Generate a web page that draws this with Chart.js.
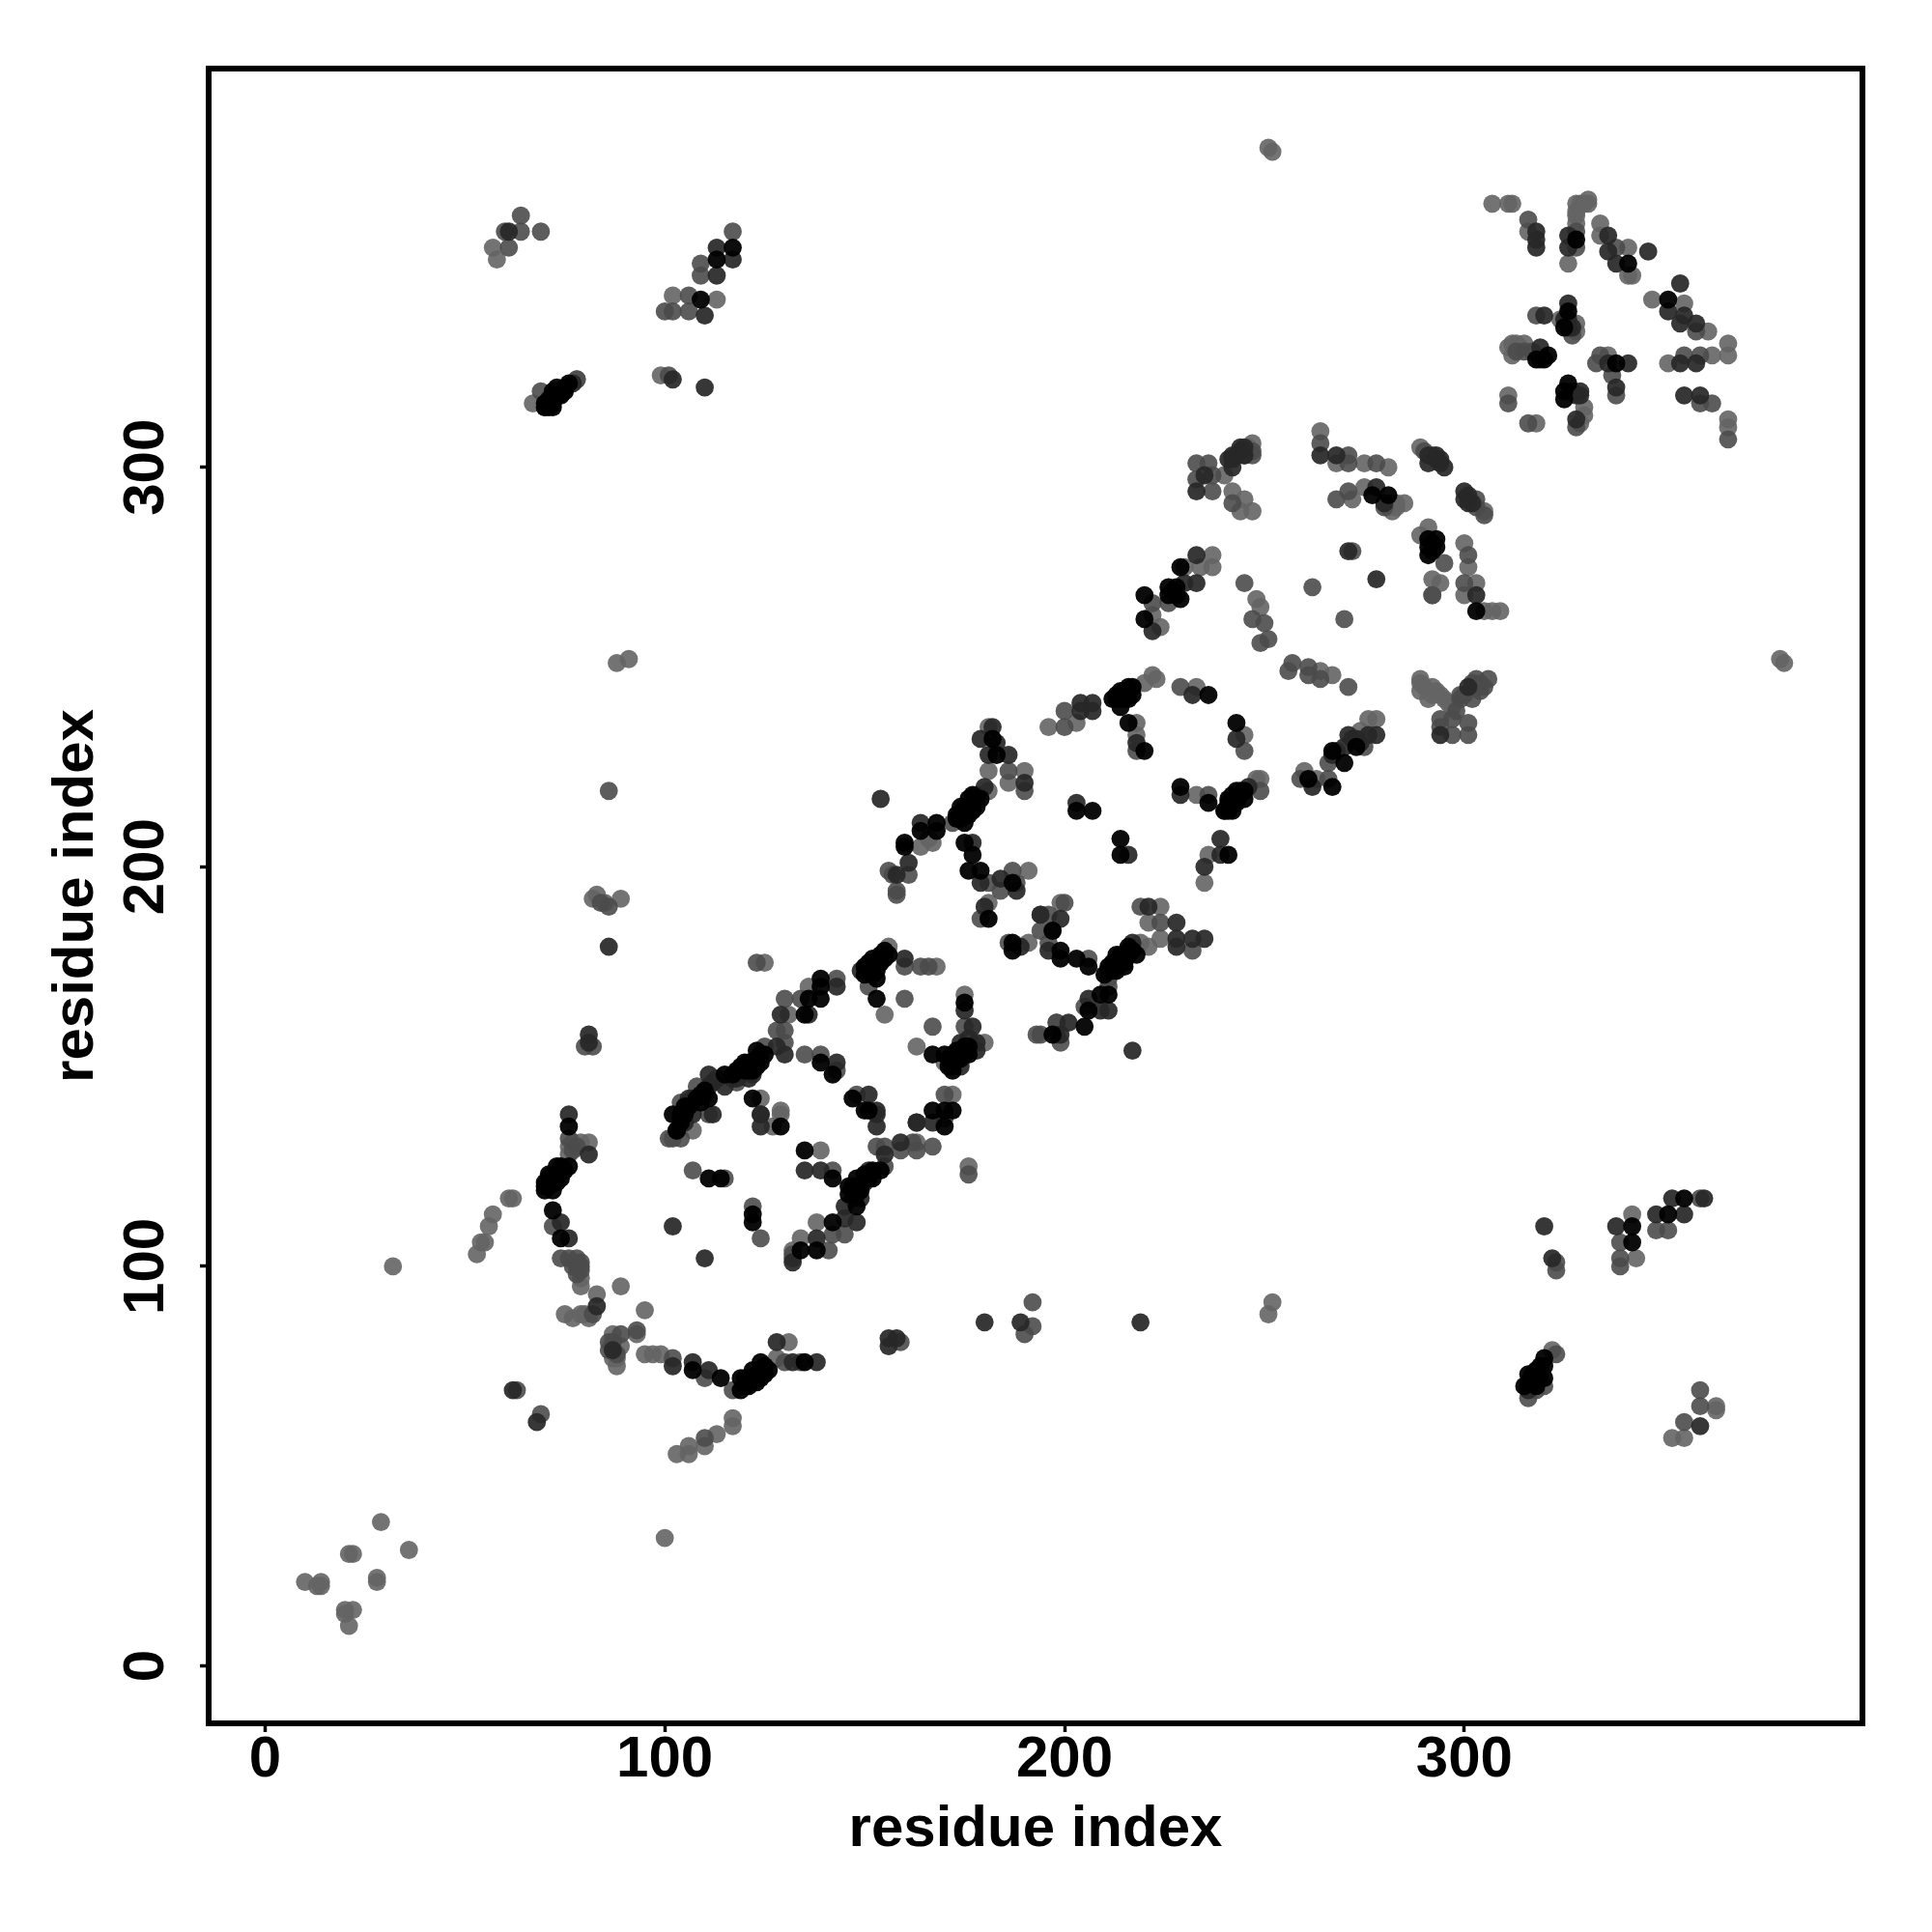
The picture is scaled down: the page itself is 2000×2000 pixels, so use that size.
<!DOCTYPE html>
<html>
<head>
<meta charset="utf-8">
<style>html,body{margin:0;padding:0;background:#fff}canvas{display:block}</style>
<script src="https://cdn.jsdelivr.net/npm/chart.js@4"></script>
</head>
<body>
<canvas id="chart" width="2000" height="2000"></canvas>
<script>
// residue contacts as [i, j], split by how dark the dot is
const blackPoints = [
[76,135],[76,125],[74,125],[73,125],[71,123],[72,122],[74,122],[70,121],[70,119],[72,119],[72,114],[74,107],
[102,138],[104,137],[103,134],[107,74],[114,72],[119,72],[119,69],[120,70],[122,74],[123,71],[124,76],[125,73],[135,76],
[111,122],[114,122],[122,113],[122,111],[135,129],[142,122],[134,104],[138,104],[142,111],[148,115],[148,120],[148,122],
[154,124],[152,124],[129,135],[150,139],[139,172],[139,170],[139,167],[136,167],[135,163],[139,151],[142,148],
[123,154],[120,151],[122,149],[120,149],[115,148],[111,142],[104,138],[103,134],[122,142],[152,177],[153,174],[154,178],
[156,178],[154,176],[153,172],[153,167],[167,153],[172,153],[172,151],[175,155],[175,153],[175,166],[167,139],[170,139],
[172,139],[170,135],[147,142],[151,139],[182,232],[183,228],[179,217],[176,217],[177,214],[174,215],[173,213],[175,211],
[168,211],[168,209],[164,209],[160,206],[160,205],[175,206],[177,203],[176,199],[179,199],[187,196],[181,187],[197,184],
[187,181],[187,179],[199,179],[199,177],[203,177],[206,175],[216,179],[218,178],[214,177],[215,175],[212,176],[212,174],
[211,168],[209,168],[206,164],[205,160],[197,158],[203,214],[207,214],[214,207],[214,203],[241,203],[229,220],[236,216],
[245,217],[242,218],[243,216],[241,216],[241,214],[215,244],[213,242],[216,242],[217,245],[243,236],[236,243],[216,236],
[220,229],[229,275],[226,270],[229,267],[220,268],[220,262],[277,293],[281,293],[292,281],[291,280],[291,278],[303,264],
[273,230],[267,229],[270,226],[261,222],[267,220],[328,357],[341,351],[351,342],[326,339],[325,335],[318,327],[321,328],
[320,327],[338,326],[326,321],[325,319],[325,317],[109,342],[75,320],[72,319],[70,316],[74,318],[72,316],[117,355],
[113,352],[355,117],[351,113],[342,110],[342,106],[319,75],[317,73],[320,72],[315,70],[318,70],
[117,148],[118,149],[119,150],[120,150],[121,151],[121,149],[122,150],[122,151],[123,152],[123,150],[124,151],[125,153],
[152,175],[153,176],[154,177],[155,177],[155,179],[152,173],[151,174],[150,173],[150,175],[151,176],
[170,153],[171,152],[172,152],[173,152],[173,154],[174,152],[174,154],[175,154],[176,155],[176,153],[171,150],[172,149],
[146,120],[146,118],[147,120],[147,119],[148,118],[149,119],[149,120],[150,122],[150,123],[151,122],[152,122],
[104,136],[105,138],[105,140],[106,140],[108,142],[109,143],[110,144],[109,141],
[120,72],[121,72],[121,70],[122,72],[123,73],[124,74],[125,75],[124,72],[126,74],
[70,120],[71,120],[71,122],[72,121],[72,123],[73,123],[73,121],[74,124],[75,124],
[175,213],[175,215],[176,215],[176,213],[177,216],[177,218],[178,217],[178,215],[174,213],[174,212],[173,212],
[211,175],[212,175],[213,176],[213,178],[214,178],[215,178],[215,176],[216,178],[216,180],[217,179],[213,174],[210,173],
[241,215],[242,216],[243,217],[244,219],[245,219],[242,214],[240,214],[241,217],[243,219],
[212,242],[213,243],[214,242],[214,244],[215,242],[216,245],[217,243],[214,240],
[72,318],[73,318],[73,320],[74,319],[75,319],[76,321],[71,317],[71,315],[70,315],[72,315],
[316,71],[316,73],[317,72],[317,71],[318,74],[318,72],[319,73],[319,74],[320,75],[320,77],
[226,268],[227,269],[228,270],[228,268],[291,282],[292,279],[293,280],[293,282]
];
const darkPoints = [
[76,138],[81,128],[74,111],[76,107],[83,90],[87,79],[102,75],[107,76],[111,74],[128,81],[132,76],[138,76],[62,69],[68,61],
[102,110],[110,102],[135,124],[139,124],[132,101],[138,107],[145,112],[148,111],[145,115],[150,121],[151,124],[155,128],
[159,131],[153,135],[153,138],[163,136],[107,138],[124,138],[124,135],[156,82],[158,82],[156,80],[112,138],[143,170],
[129,163],[136,163],[130,153],[128,155],[143,151],[124,153],[122,148],[119,148],[115,145],[111,148],[111,145],[107,142],
[124,138],[149,174],[160,177],[175,164],[177,160],[174,150],[178,156],[178,154],[167,136],[163,136],[151,143],[153,139],
[154,217],[182,235],[179,232],[183,231],[181,228],[186,228],[190,221],[180,220],[178,218],[164,211],[161,201],[158,198],
[177,206],[179,196],[184,197],[188,194],[180,190],[194,188],[199,187],[189,180],[196,179],[217,181],[211,174],[206,167],
[209,164],[211,164],[201,161],[199,158],[217,154],[221,190],[228,186],[228,182],[228,180],[232,182],[235,182],[203,216],
[216,203],[239,203],[239,207],[235,200],[229,218],[246,220],[244,218],[232,243],[243,232],[218,231],[204,241],[204,239],
[207,241],[207,239],[233,294],[235,298],[244,304],[242,302],[245,303],[242,300],[264,303],[268,303],[294,301],[291,301],
[280,291],[278,295],[300,294],[300,292],[303,268],[230,271],[233,278],[233,271],[222,259],[271,279],[278,272],[278,233],
[271,233],[270,230],[262,220],[294,233],[301,245],[318,359],[318,357],[318,355],[326,358],[326,355],[336,358],[336,354],
[338,351],[346,354],[354,346],[351,339],[354,336],[355,338],[358,336],[358,326],[354,326],[355,318],[359,318],[326,341],
[320,338],[319,330],[336,326],[341,326],[338,320],[329,319],[328,318],[328,312],[61,359],[113,355],[117,352],[113,348],
[110,338],[77,321],[102,322],[110,320],[320,110],[322,102],[352,117],[355,113],[348,113],[338,110],[316,69],[359,60],
[81,158],[81,156],[86,180],[180,86],[189,86],[219,86],[360,117],
[241,302],[242,303],[243,303],[244,305],[245,305],[291,303],[293,302],[294,302],[293,303],[295,300],[301,293],[302,291],[301,291],
[325,337],[326,337],[327,335],[326,335],[319,327],[329,318],[327,319],[267,228],[268,229],[272,232],[273,232],[274,231],[276,233],
[147,117],[149,117],[121,147],[118,147],[117,147],[113,147],[112,146],[110,143],[106,142],[105,136],[174,156],[176,157],[172,150]
];
const greyPoints = [
[76,132],[72,110],[74,102],[76,102],[79,101],[79,99],[82,88],[89,83],[87,81],[93,84],[102,77],[110,72],[117,69],[130,76],
[134,76],[63,69],[69,63],[110,57],[107,124],[115,122],[122,115],[124,107],[142,124],[132,103],[141,104],[142,108],[145,108],
[155,125],[153,130],[155,130],[159,129],[162,131],[101,132],[102,132],[104,132],[159,81],[192,91],[190,83],[192,85],[86,219],
[123,176],[130,167],[134,167],[128,159],[130,159],[130,156],[135,153],[139,153],[143,149],[125,155],[108,145],[104,141],
[111,138],[143,172],[151,170],[160,175],[164,175],[166,175],[160,167],[175,160],[167,160],[170,143],[170,137],[148,143],
[176,123],[167,130],[199,156],[193,158],[198,161],[198,158],[163,129],[186,181],[172,211],[158,194],[158,193],[156,199],
[161,198],[190,219],[186,224],[181,196],[187,199],[188,196],[184,194],[179,187],[200,191],[194,188],[196,188],[194,184],
[197,184],[196,181],[206,177],[211,172],[205,165],[198,161],[194,158],[219,190],[224,186],[232,179],[236,218],[249,219],
[240,214],[229,245],[245,229],[218,229],[200,235],[200,239],[233,301],[236,301],[233,297],[237,298],[237,294],[247,304],
[242,291],[264,306],[271,303],[271,301],[278,301],[268,292],[271,294],[290,304],[292,303],[303,292],[303,290],[305,288],
[295,276],[292,268],[301,278],[300,271],[226,266],[222,266],[245,271],[247,262],[250,261],[251,257],[249,256],[272,279],
[262,270],[270,262],[257,251],[256,249],[261,250],[261,248],[264,247],[271,245],[298,239],[294,237],[297,237],[301,236],
[294,235],[297,233],[301,233],[303,247],[306,247],[304,244],[299,242],[302,242],[275,230],[266,226],[259,222],[266,222],
[316,362],[328,359],[328,355],[338,355],[358,334],[359,328],[355,328],[359,316],[362,316],[366,307],[318,338],[327,333],
[315,329],[317,329],[311,316],[316,311],[334,328],[333,326],[337,323],[338,318],[328,310],[64,363],[64,359],[69,359],[60,359],
[61,355],[117,359],[109,351],[109,348],[100,339],[102,339],[106,343],[106,339],[78,322],[69,319],[70,315],[101,323],[323,101],
[323,99],[359,117],[348,109],[351,109],[339,106],[339,102],[339,100],[323,78],[318,69],[316,67],[359,69],[359,65],[355,61],
[84,191],[86,190],[80,155],[82,155],
[77,100],[78,100],[78,98],[78,102],[79,100],[88,78],[86,79],[86,81],[87,79],[299,243],[300,243],[302,246],[303,245],[305,245],
[245,303],[247,303],[77,129],[78,130],[280,290],[313,329],[211,170],[157,198],[118,146],[132,102],[320,70]
];
const palePoints = [
[29,36],[36,29],[21,28],[22,28],[10,21],[14,21],[14,20],[13,20],[28,22],[28,21],[20,14],[22,14],[20,13],[21,10],[32,100],[100,32],
[61,117],[62,117],[54,106],[55,106],[57,113],[53,103],[56,110],[79,131],[81,131],[76,128],[79,97],[79,95],[83,93],[89,95],[95,89],
[75,88],[77,87],[79,88],[80,88],[81,87],[87,83],[93,83],[89,80],[87,77],[88,75],[88,77],[95,78],[97,78],[99,78],[117,62],[117,60],
[113,58],[110,55],[106,55],[106,53],[103,53],[131,81],[128,77],[139,129],[132,104],[134,107],[138,111],[107,134],[129,138],[127,135],
[125,176],[131,163],[136,170],[156,180],[155,163],[168,175],[175,168],[163,155],[170,151],[180,156],[172,143],[124,142],[129,139],
[176,125],[163,131],[181,235],[181,224],[186,221],[190,224],[181,219],[167,206],[166,207],[164,205],[181,191],[191,199],[191,181],
[199,191],[196,235],[203,236],[219,181],[221,180],[224,182],[224,190],[221,186],[233,218],[248,222],[249,222],[236,203],[235,196],
[233,245],[245,233],[218,236],[218,233],[222,248],[247,306],[240,298],[242,294],[245,292],[244,289],[247,289],[264,309],[268,301],
[275,301],[281,300],[272,292],[275,295],[282,289],[283,290],[285,291],[289,305],[305,289],[291,285],[289,283],[292,272],[294,271],
[292,268],[300,281],[301,275],[303,271],[300,268],[305,264],[309,264],[307,264],[237,278],[237,275],[234,275],[230,275],[222,263],
[224,260],[248,267],[249,265],[264,249],[267,248],[289,247],[289,244],[292,245],[291,242],[294,243],[297,240],[276,237],[278,237],
[274,234],[260,224],[263,222],[307,366],[311,366],[312,366],[316,359],[328,366],[331,367],[331,366],[328,363],[328,361],[326,351],
[334,361],[334,358],[341,355],[341,348],[342,348],[347,342],[355,341],[361,334],[366,331],[366,328],[362,328],[351,326],[366,312],
[366,310],[324,337],[328,336],[328,334],[312,331],[311,330],[312,328],[315,331],[311,318],[318,311],[336,328],[330,315],[330,313],
[329,311],[57,355],[58,352],[113,342],[102,343],[78,322],[67,316],[99,323],[342,113],[343,102],[322,79],[352,57],[355,57],[363,65],
[363,64],[89,192],[83,193],[82,192],[85,191],[88,251],[91,252],[251,88],[252,91],[251,380],[252,379],[379,252],[380,251],
[76,130],[77,131],[289,246],[290,245],[292,243],[293,244],[295,242],[296,241],[304,246],[313,331],[314,330],[328,364],[329,366],
[330,366],[281,290],[283,291],[282,291],[246,305],[223,247],[220,246]
];

const tickValues = [0, 100, 200, 300];
const axisTitle = 'residue index';

// one dataset per shade, darkest first so the pale dots end up on top
const shades = [
	{ data: blackPoints, color: 'rgba(0, 0, 0, 0.95)' },
	{ data: darkPoints, color: 'rgba(40, 40, 40, 0.93)' },
	{ data: greyPoints, color: 'rgba(75, 75, 75, 0.9)' },
	{ data: palePoints, color: 'rgba(100, 100, 100, 0.9)' }
];

const labelFont = { family: '"Liberation Sans"', size: 60, weight: 'bold' };

// R style closed box around the plot
const frame = {
	id: 'frame',
	afterDraw(chart) {
		const { ctx, chartArea: a } = chart;
		ctx.save();
		ctx.strokeStyle = '#000';
		ctx.lineWidth = 6;
		ctx.lineJoin = 'miter';
		ctx.strokeRect(a.left, a.top, a.right - a.left, a.bottom - a.top);
		ctx.restore();
	}
};

function axis(min, max, extra) {
	return Object.assign({
		type: 'linear',
		min: min,
		max: max,
		afterBuildTicks: scale => { scale.ticks = tickValues.map(v => ({ value: v })); },
		grid: { drawOnChartArea: false, drawTicks: true, tickLength: 9, tickWidth: 3.5, tickColor: '#000' },
		border: { display: false }
	}, extra);
}

new Chart(document.getElementById('chart'), {
	type: 'scatter',
	data: {
		datasets: shades.map(s => ({
			data: s.data.map(p => ({ x: p[0], y: p[1] })),
			backgroundColor: s.color,
			borderWidth: 0,
			pointRadius: 9.4,
			clip: false
		}))
	},
	options: {
		responsive: false,
		animation: false,
		layout: { padding: { top: 71, right: 72, left: 0, bottom: 0 } },
		plugins: { legend: { display: false }, tooltip: { enabled: false } },
		scales: {
			x: axis(-14.1, 399.6, {
				afterFit: scale => { scale.height = 216; },
				ticks: { font: labelFont, color: '#000', padding: -7, maxRotation: 0, autoSkip: false },
				title: { display: true, text: axisTitle, font: labelFont, color: '#000', padding: { top: 0, bottom: 70 } }
			}),
			y: axis(-14.4, 399.8, {
				afterFit: scale => { scale.width = 216; },
				ticks: { font: labelFont, color: '#000', padding: 4, minRotation: 90, maxRotation: 90, crossAlign: 'center', autoSkip: false },
				title: { display: true, text: axisTitle, font: labelFont, color: '#000', padding: { top: 43, bottom: 0 } }
			})
		}
	},
	plugins: [frame]
});
</script>
</body>
</html>
